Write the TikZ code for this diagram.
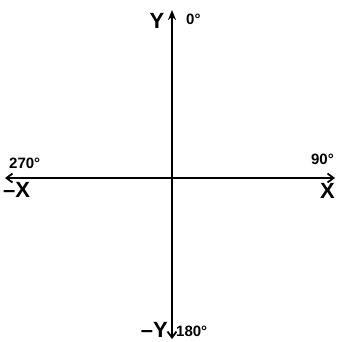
\documentclass[tikz,border=0pt]{standalone}
\usepackage{fontspec}
\setmainfont{Liberation Sans}
\usetikzlibrary{arrows.meta}
\begin{document}
\begin{tikzpicture}[x=1pt,y=-1pt,
  axis/.style={line width=2.6pt,-{Straight Barb[length=6pt,width=9pt,line width=1.8pt]}},
  axistop/.style={line width=2.6pt,-{Stealth[length=10pt,width=8pt,inset=3pt]}},
  biglbl/.style={font=\bfseries\fontsize{22}{22}\selectfont,inner sep=0pt},
  deglbl/.style={font=\bfseries\fontsize{15}{15}\selectfont,inner sep=0pt}]
\useasboundingbox (0,0) rectangle (339,342);
\coordinate (O) at (172,178);
\coordinate (T) at (172,10);
\coordinate (B) at (172,339);
\coordinate (L) at (5,178);
\coordinate (R) at (335,178);
\draw[axistop] (O) -- (T);
\draw[axis] (O) -- (B);
\draw[axis] (O) -- (L);
\draw[axis] (O) -- (R);
\node[biglbl,anchor=center] (ly) at (157,21) {Y};
\node[deglbl,anchor=west] (l0) at (186,19) {0°};
\node[deglbl,anchor=east] (l90) at (334,159) {90°};
\node[biglbl,anchor=east] (lx) at (335,191) {X};
\node[deglbl,anchor=west] (l270) at (9,163) {270°};
\node[biglbl,anchor=west] (lmx) at (3,190) {–X};
\node[biglbl,anchor=east] (lmy) at (168,330) {–Y};
\node[deglbl,anchor=west] (l180) at (176,331) {180°};
\end{tikzpicture}
\end{document}
